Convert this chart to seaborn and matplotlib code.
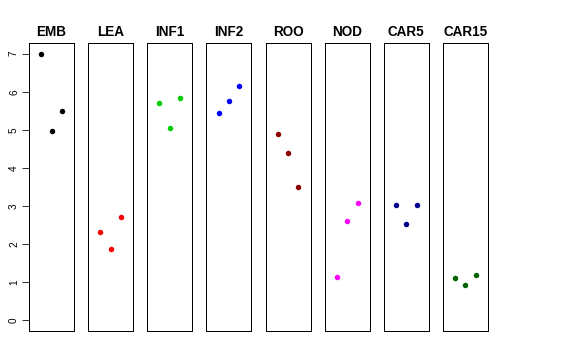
import matplotlib
matplotlib.use("Agg")
import matplotlib.pyplot as plt
import seaborn as sns
import pandas as pd

# tissue groups, three replicates each
tissues = ["EMB", "LEA", "INF1", "INF2", "ROO", "NOD", "CAR5", "CAR15"]
replicate = [1, 2, 3]
values = {
    "EMB":   [7.00, 4.96, 5.50],
    "LEA":   [2.33, 1.88, 2.72],
    "INF1":  [5.71, 5.05, 5.83],
    "INF2":  [5.44, 5.77, 6.16],
    "ROO":   [4.90, 4.39, 3.51],
    "NOD":   [1.15, 2.61, 3.07],
    "CAR5":  [3.02, 2.54, 3.02],
    "CAR15": [1.12, 0.93, 1.20],
}
colors = ["black", "#FF0000", "#00CD00", "#0000FF",
          "#8B0000", "#FF00FF", "#00008B", "#006400"]
yticks = [0, 1, 2, 3, 4, 5, 6, 7]

rows = []
for t in tissues:
    for r, v in zip(replicate, values[t]):
        rows.append({"tissue": t, "rep": r, "value": v})
df = pd.DataFrame(rows)

sns.set_style("white")
plt.rcParams["font.family"] = ["Liberation Sans", "DejaVu Sans"]
plt.rcParams["text.color"] = "black"
plt.rcParams["ytick.labelcolor"] = "black"

fig, axes = plt.subplots(1, len(tissues), figsize=(8, 5), dpi=72, sharey=True)
fig.subplots_adjust(left=29/576, right=488/576, top=1-43/360, bottom=1-331/360,
                    wspace=0.314)

for i, (ax, t) in enumerate(zip(axes, tissues)):
    sub = df[df["tissue"] == t]
    sns.scatterplot(data=sub, x="rep", y="value", ax=ax, color=colors[i],
                    s=30, linewidth=0, legend=False)
    ax.set_xlim(-0.16, 4.16)
    ax.set_ylim(-0.28, 7.28)
    ax.set_title(t, fontsize=13.5, fontweight="bold", pad=7, color="black")
    ax.set_xlabel("")
    ax.set_ylabel("")
    ax.set_xticks([])
    for sp in ax.spines.values():
        sp.set_visible(True)
        sp.set_color("black")
        sp.set_linewidth(1)
    if i == 0:
        ax.set_yticks(yticks)
        ax.set_yticklabels([str(v) for v in yticks], rotation=90, va="center",
                           fontsize=10, color="black")
        ax.tick_params(axis="y", left=True, length=7, width=1, pad=3,
                       color="#333333")
    else:
        ax.tick_params(axis="y", left=False, labelleft=False)

fig.savefig("out.png", dpi=72)
